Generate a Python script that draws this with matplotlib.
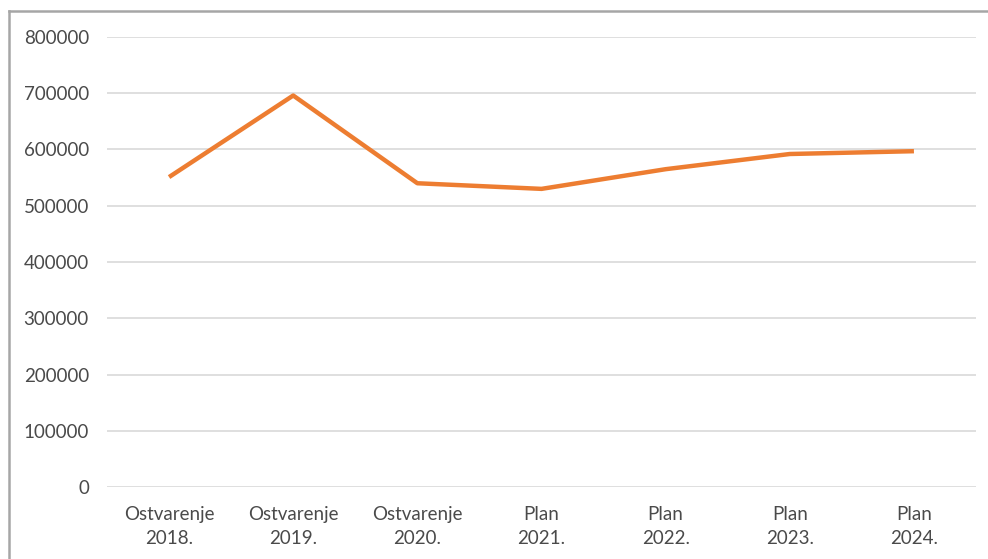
import matplotlib.pyplot as plt
from matplotlib.lines import Line2D

# Categories and values
categories = ['Ostvarenje\n2018.', 'Ostvarenje\n2019.', 'Ostvarenje\n2020.',
              'Plan\n2021.', 'Plan\n2022.', 'Plan\n2023.', 'Plan\n2024.']
values = [551000, 696000, 540000, 530000, 565000, 592000, 597000]
y_ticks = [0, 100000, 200000, 300000, 400000, 500000, 600000, 700000, 800000]

W, H = 988, 559
fig = plt.figure(figsize=(W / 100, H / 100), dpi=100)
ax = fig.add_axes([107 / W, 1 - 487 / H, (976 - 107) / W, (487 - 37) / H])

x = range(len(categories))
ax.plot(x, values, color='#ED7D31', linewidth=3.2, solid_capstyle='butt', zorder=3)

ax.set_xlim(-0.5, len(categories) - 0.5)
ax.set_ylim(0, 800000)
ax.set_yticks(y_ticks)
ax.set_yticklabels([str(v) for v in y_ticks])
ax.set_xticks(list(x))
ax.set_xticklabels(categories, linespacing=1.45)

ax.grid(axis='y', color='#D9D9D9', linewidth=1.2)
ax.set_axisbelow(True)
for s in ax.spines.values():
    s.set_visible(False)
ax.tick_params(length=0, colors='#4a4a4a', labelsize=13.5)
ax.tick_params(axis='y', pad=13)
ax.tick_params(axis='x', pad=14)
for lab in ax.get_xticklabels() + ax.get_yticklabels():
    lab.set_fontfamily('Lato')

# outer chart frame (left and top edges visible)
fig.add_artist(Line2D([9 / W, 9 / W], [0, 1 - 11 / H], transform=fig.transFigure,
                      color='#A6A6A6', linewidth=1.8))
fig.add_artist(Line2D([9 / W, 1], [1 - 11 / H, 1 - 11 / H], transform=fig.transFigure,
                      color='#A6A6A6', linewidth=1.8))

fig.savefig('out.png', dpi=100)
